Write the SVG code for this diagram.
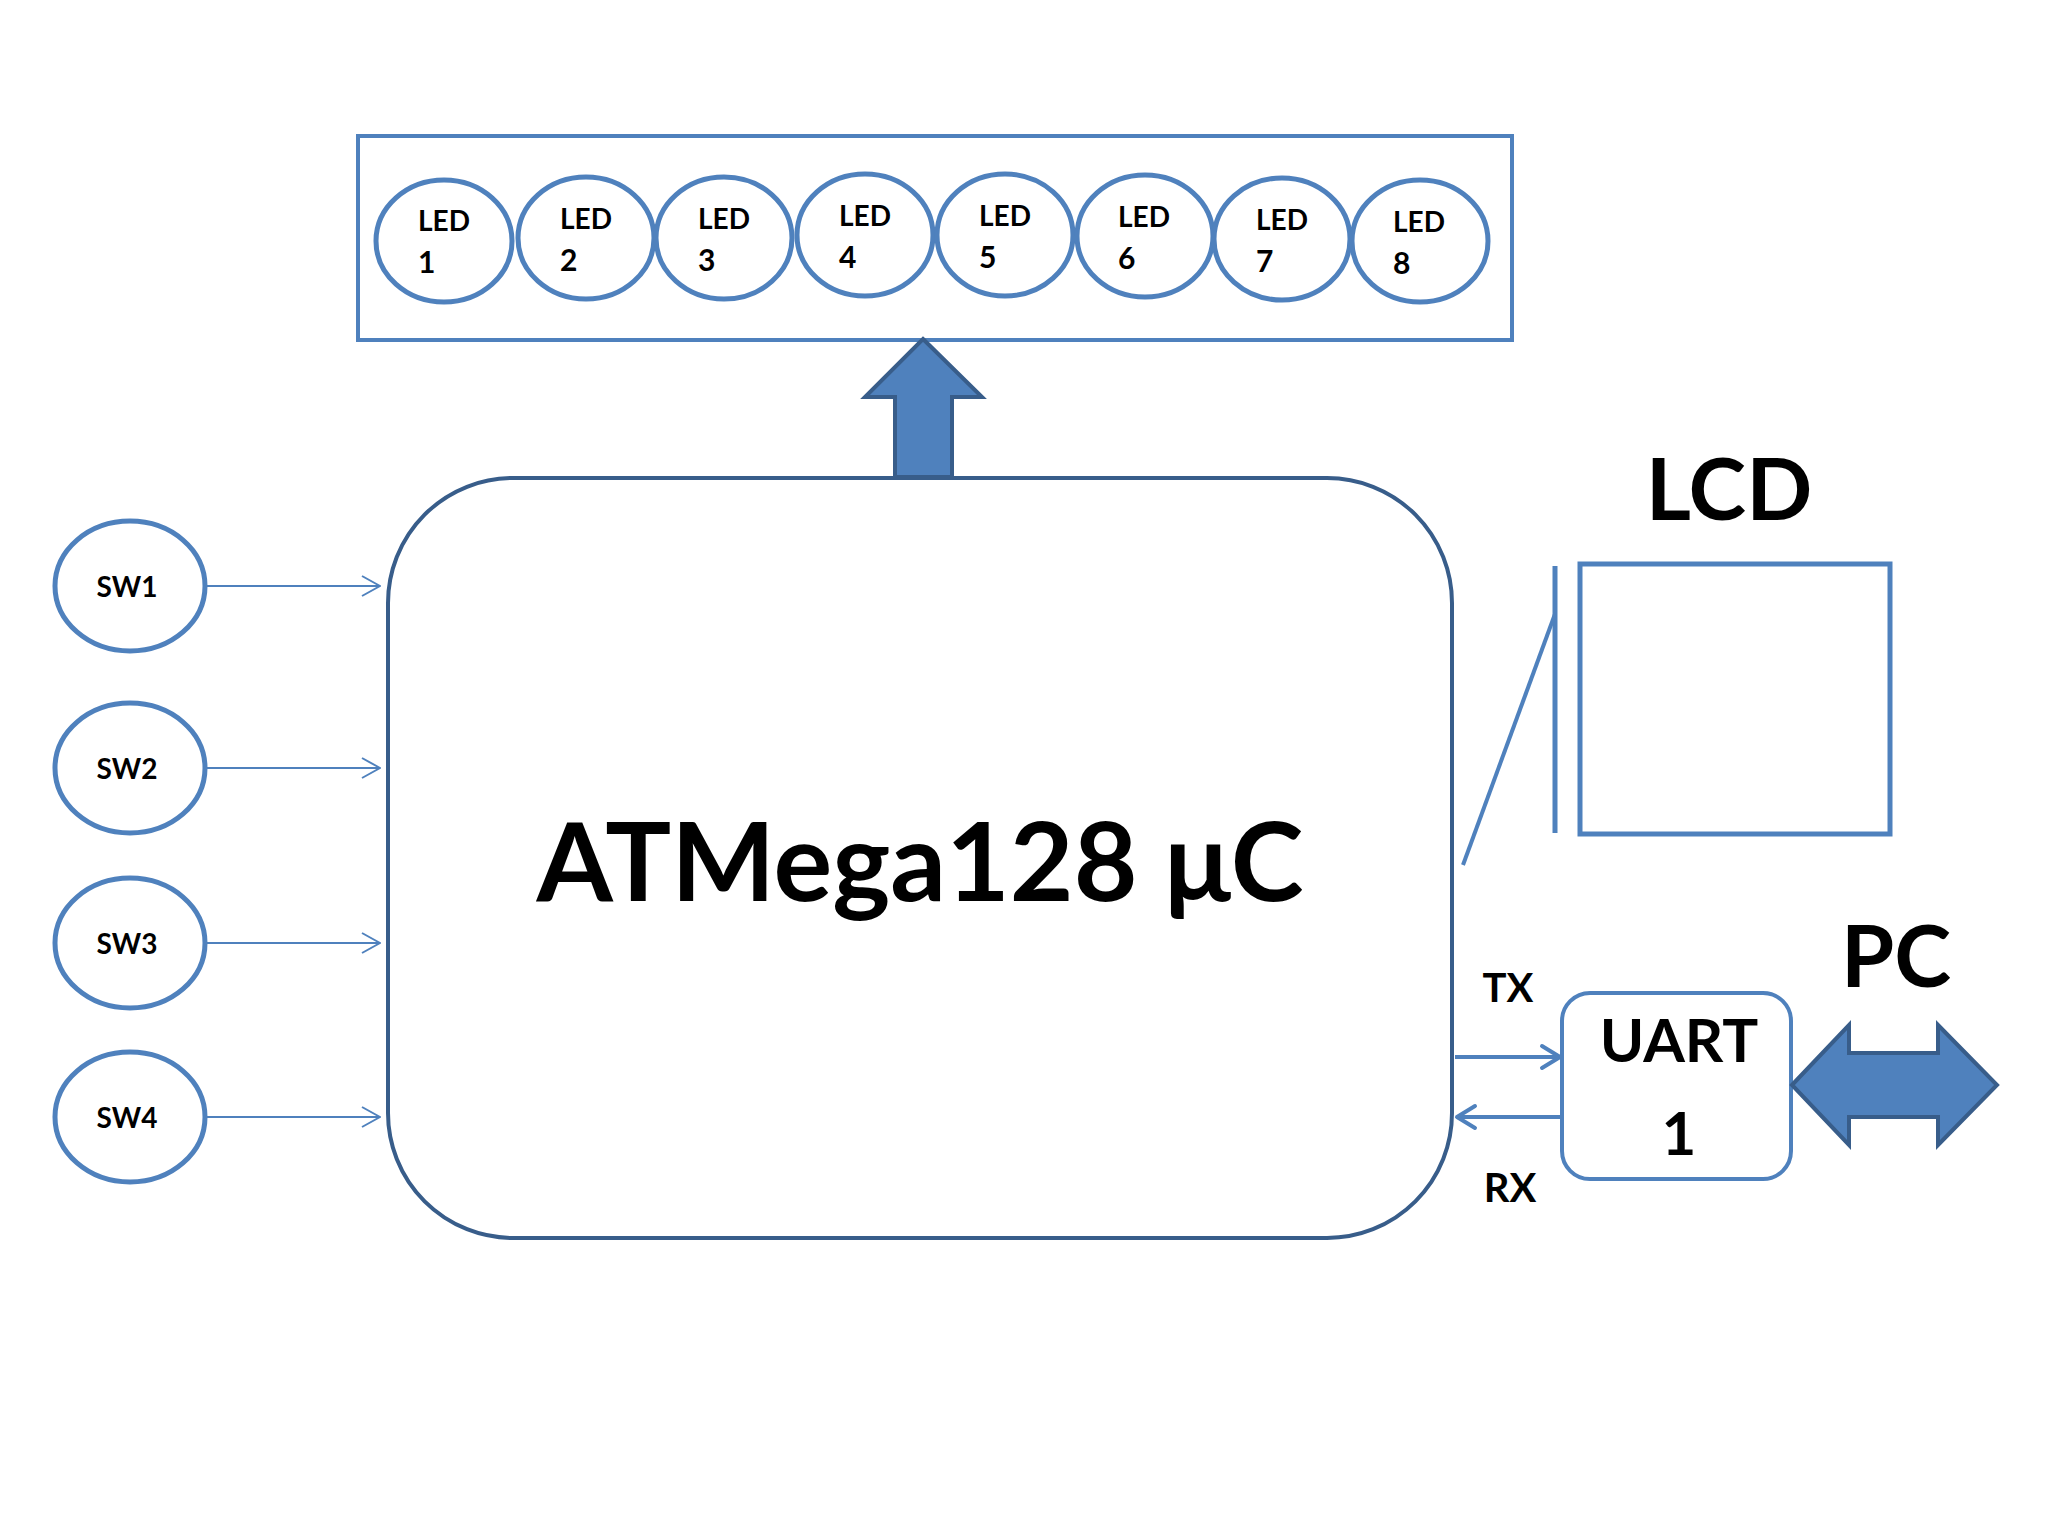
<svg xmlns="http://www.w3.org/2000/svg" width="2048" height="1536" viewBox="0 0 2048 1536">
<defs>
<style>
.t{font-family:Lato,"Liberation Sans",sans-serif;font-weight:700;fill:#000;font-variant-numeric:lining-nums}
.led{fill:#fff;stroke:#4f81bd;stroke-width:5}
.sw{fill:#fff;stroke:#4f81bd;stroke-width:5}
.thin{stroke:#4f81bd;stroke-width:2;fill:none}
.thick{stroke:#4f81bd;stroke-width:4;fill:none}
.blk{fill:#4f81bd;stroke:#385d8a;stroke-width:4;stroke-linejoin:miter}
</style>
<marker id="ah" viewBox="0 0 20 22" refX="19" refY="11" markerWidth="20" markerHeight="22" markerUnits="userSpaceOnUse" orient="auto">
<path d="M1,1 L19,11 L1,21" fill="none" stroke="#4f81bd" stroke-width="2"/>
</marker>
<marker id="ah2" viewBox="0 0 24 28" refX="21" refY="14" markerWidth="24" markerHeight="28" markerUnits="userSpaceOnUse" orient="auto">
<path d="M3,3 L21,14 L3,25" fill="none" stroke="#4f81bd" stroke-width="4" stroke-linecap="round" stroke-linejoin="round"/>
</marker>
</defs>
<rect width="2048" height="1536" fill="#fff"/>

<g id="led-bar">
<rect x="358" y="136" width="1154" height="204" fill="#fff" stroke="#4f81bd" stroke-width="4"/>
</g>
<g id="led1"><ellipse class="led" cx="444" cy="241" rx="68" ry="61"/><text class="t" x="418" y="231" font-size="28">LED</text><text class="t" x="418" y="273" font-size="30">1</text></g>
<g id="led2"><ellipse class="led" cx="586" cy="238" rx="68" ry="61"/><text class="t" x="560" y="229" font-size="28">LED</text><text class="t" x="560" y="271" font-size="30">2</text></g>
<g id="led3"><ellipse class="led" cx="724" cy="238" rx="68" ry="61"/><text class="t" x="698" y="229" font-size="28">LED</text><text class="t" x="698" y="271" font-size="30">3</text></g>
<g id="led4"><ellipse class="led" cx="865" cy="235" rx="68" ry="61"/><text class="t" x="839" y="226" font-size="28">LED</text><text class="t" x="839" y="268" font-size="30">4</text></g>
<g id="led5"><ellipse class="led" cx="1005" cy="235" rx="68" ry="61"/><text class="t" x="979" y="226" font-size="28">LED</text><text class="t" x="979" y="268" font-size="30">5</text></g>
<g id="led6"><ellipse class="led" cx="1145" cy="236" rx="68" ry="61"/><text class="t" x="1118" y="227" font-size="28">LED</text><text class="t" x="1118" y="269" font-size="30">6</text></g>
<g id="led7"><ellipse class="led" cx="1282" cy="239" rx="68" ry="61"/><text class="t" x="1256" y="230" font-size="28">LED</text><text class="t" x="1256" y="272" font-size="30">7</text></g>
<g id="led8"><ellipse class="led" cx="1420" cy="241" rx="68" ry="61"/><text class="t" x="1393" y="232" font-size="28">LED</text><text class="t" x="1393" y="274" font-size="30">8</text></g>

<g id="mcu">
<rect x="388" y="478" width="1064" height="760" rx="125" ry="125" fill="#fff" stroke="#385d8a" stroke-width="4"/>
<text class="t" x="920" y="901" font-size="110" text-anchor="middle">ATMega128 μC</text>
</g>

<g id="sw1"><ellipse class="sw" cx="130" cy="586" rx="75" ry="65"/><text class="t" x="127" y="597" font-size="28" text-anchor="middle">SW1</text></g>
<g id="sw2"><ellipse class="sw" cx="130" cy="768" rx="75" ry="65"/><text class="t" x="127" y="779" font-size="28" text-anchor="middle">SW2</text></g>
<g id="sw3"><ellipse class="sw" cx="130" cy="943" rx="75" ry="65"/><text class="t" x="127" y="954" font-size="28" text-anchor="middle">SW3</text></g>
<g id="sw4"><ellipse class="sw" cx="130" cy="1117" rx="75" ry="65"/><text class="t" x="127" y="1128" font-size="28" text-anchor="middle">SW4</text></g>

<g id="lcd">
<rect x="1580" y="564" width="310" height="270" fill="#fff" stroke="#4f81bd" stroke-width="5"/>
<text class="t" x="1729" y="520" font-size="87" text-anchor="middle">LCD</text>
</g>

<g id="uart">
<rect x="1562" y="993" width="229" height="186" rx="28" ry="28" fill="#fff" stroke="#4f81bd" stroke-width="4"/>
<text class="t" x="1679" y="1062" font-size="60" text-anchor="middle">UART</text>
<text class="t" x="1679" y="1155" font-size="60" text-anchor="middle">1</text>
</g>

<g id="pc">
<text class="t" x="1896" y="987" font-size="86" text-anchor="middle">PC</text>
</g>

<g id="connectors">
<path class="blk" d="M923,339 L982,397 L952,397 L952,477 L895,477 L895,397 L865,397 Z"/>
<line class="thin" x1="207" y1="586" x2="380" y2="586" marker-end="url(#ah)"/>
<line class="thin" x1="207" y1="768" x2="380" y2="768" marker-end="url(#ah)"/>
<line class="thin" x1="207" y1="943" x2="380" y2="943" marker-end="url(#ah)"/>
<line class="thin" x1="207" y1="1117" x2="380" y2="1117" marker-end="url(#ah)"/>
<line x1="1555" y1="566" x2="1555" y2="833" stroke="#4f81bd" stroke-width="5"/>
<line x1="1463" y1="865" x2="1555" y2="614" stroke="#4f81bd" stroke-width="4"/>
<line class="thick" x1="1455" y1="1057" x2="1560" y2="1057" marker-end="url(#ah2)"/>
<line class="thick" x1="1560" y1="1117" x2="1457" y2="1117" marker-end="url(#ah2)"/>
<text class="t" x="1508" y="1002" font-size="40" text-anchor="middle">TX</text>
<text class="t" x="1510" y="1202" font-size="40" text-anchor="middle">RX</text>
<path class="blk" d="M1792,1085 L1849,1025 L1849,1053 L1938,1053 L1938,1025 L1997,1085 L1938,1145 L1938,1117 L1849,1117 L1849,1145 Z"/>
</g>
</svg>
